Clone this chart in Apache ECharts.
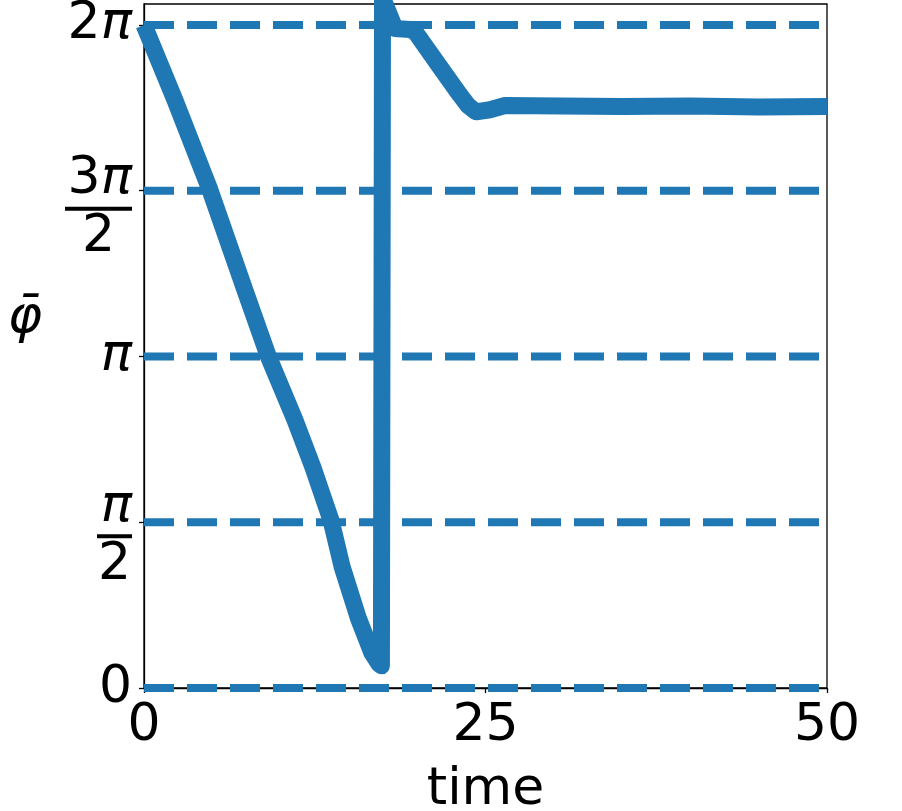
<!DOCTYPE html>
<html>
<head>
<meta charset="utf-8">
<script src="https://cdn.jsdelivr.net/npm/echarts@6/dist/echarts.min.js"></script>
<style>
  html, body { margin: 0; padding: 0; background: #fff; }
  #main { width: 902px; height: 811px; }
</style>
</head>
<body>
<div id="main"></div>
<script>
// phase trace
var times = [0, 2.27, 4.83, 7.39, 9.08, 11.05, 12.37, 13.69, 14.5, 15.67, 16.69, 17.2, 17.38,
    17.46, 18.38, 19.47, 19.84, 21.67, 23.13, 23.72, 24.31, 25.33, 26.43, 30.5, 35, 40, 45, 50]
var phis = [6.283, 5.57, 4.72, 3.77, 3.15, 2.54, 2.09, 1.59, 1.15, 0.67, 0.33, 0.23, 0.21,
    6.54, 6.25, 6.24, 6.22, 5.885, 5.62, 5.52, 5.46, 5.48, 5.52, 5.515, 5.51, 5.515, 5.505, 5.51]

// dashed reference levels = y ticks
var levels = [0, Math.PI / 2, Math.PI, 3 * Math.PI / 2, 2 * Math.PI]
var levelLabels = [
    '0',
    '{sp1| }\n{i|π}\n{bar1| }\n{d1|2}',
    '{i|π}',
    '{sp3| }\n{r|3}{i|π}\n{bar3| }\n{d3|2}',
    '{r|2}{i|π}'
]
var xTicks = [0, 25, 50]

var blue = '#1f77b4'
var font = 'DejaVu Sans'

var series = []
levels.forEach(function (lv) {
    series.push({
        type: 'line',
        data: [[0, lv], [50, lv]],
        showSymbol: false,
        clip: true,
        lineStyle: { color: blue, width: 8, type: [30, 13], cap: 'butt' },
        silent: true
    })
})
series.push({
    type: 'line',
    data: times.map(function (t, i) { return [t, phis[i]] }),
    showSymbol: false,
    clip: true,
    lineStyle: { color: blue, width: 17, cap: 'butt', join: 'round' }
})

var myChart = echarts.init(document.getElementById('main'))
var options = {
    animation: false,
    grid: {
        left: 144, right: 75, top: 4, bottom: 123,
        outerBoundsMode: 'none',
        containLabel: false,
        show: true, borderColor: '#000', borderWidth: 1.3, backgroundColor: '#fff'
    },
    xAxis: {
        type: 'value',
        min: 0, max: 50, interval: 25,
        name: 'time',
        nameLocation: 'middle',
        nameGap: 102,
        nameTextStyle: { fontSize: 52, fontFamily: font, color: '#000', verticalAlign: 'middle' },
        axisLine: { lineStyle: { color: '#000', width: 1.3 } },
        axisTick: { show: true, length: 5, lineStyle: { color: '#000', width: 1.3 }, customValues: xTicks },
        axisLabel: { fontSize: 52, fontFamily: font, color: '#000', margin: 12, customValues: xTicks },
        splitLine: { show: false }
    },
    yAxis: {
        type: 'value',
        min: 0, max: 6.482,
        name: '{i|φ̄}',
        nameLocation: 'middle',
        nameRotate: 0,
        nameGap: 119,
        nameTextStyle: {
            align: 'center', verticalAlign: 'middle', padding: [0, 0, 56, 0],
            rich: { i: { fontSize: 52, fontFamily: font, fontStyle: 'italic', color: '#000' } }
        },
        axisLine: { show: true, lineStyle: { color: '#000', width: 1.3 } },
        axisTick: { show: true, length: 5, lineStyle: { color: '#000', width: 1.3 }, customValues: levels },
        axisLabel: {
            customValues: levels,
            margin: 12,
            fontSize: 52, fontFamily: font, color: '#000',
            formatter: function (v) {
                for (var i = 0; i < levels.length; i++) {
                    if (Math.abs(levels[i] - v) < 1e-6) return levelLabels[i]
                }
                return ''
            },
            rich: {
                r: { fontSize: 52, fontFamily: font, color: '#000', lineHeight: 46 },
                i: { fontSize: 52, fontFamily: font, fontStyle: 'italic', color: '#000', lineHeight: 46 },
                sp1: { fontSize: 10, lineHeight: 28, height: 28 },
                sp3: { fontSize: 10, lineHeight: 36, height: 36 },
                bar1: { fontSize: 4, width: 35, height: 4, lineHeight: 12, backgroundColor: '#000' },
                bar3: { fontSize: 4, width: 67, height: 4, lineHeight: 12, backgroundColor: '#000' },
                d1: { fontSize: 52, fontFamily: font, color: '#000', width: 35, align: 'center', lineHeight: 46 },
                d3: { fontSize: 52, fontFamily: font, color: '#000', width: 67, align: 'center', lineHeight: 46 }
            }
        },
        splitLine: { show: false }
    },
    series: series
}
myChart.setOption(options)
</script>
</body>
</html>
